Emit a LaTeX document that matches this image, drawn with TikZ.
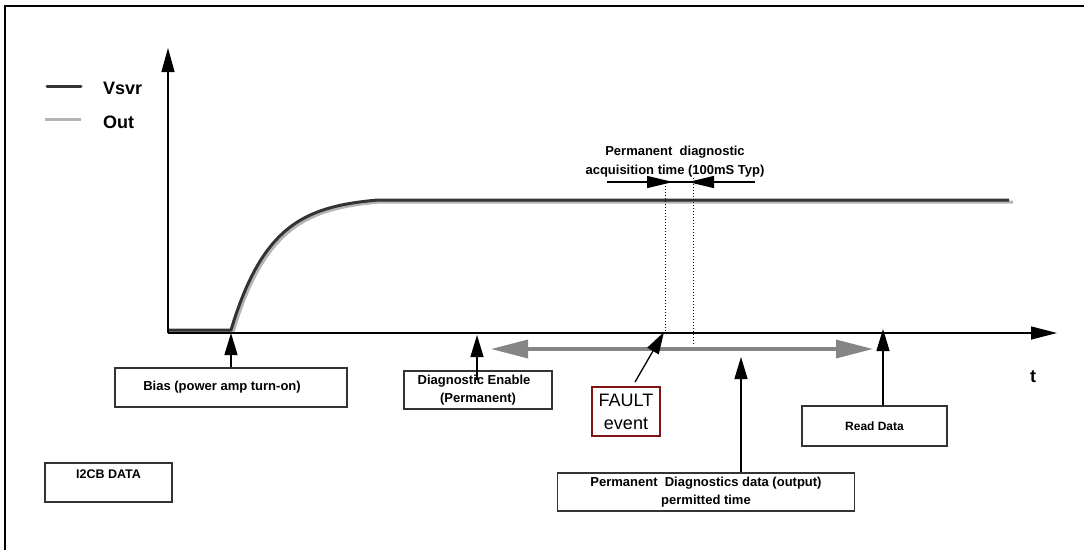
\documentclass[tikz,border=0pt]{standalone}
\usepackage{fontspec}
\setmainfont{Liberation Sans}
\usetikzlibrary{arrows.meta}

\definecolor{vsvrgray}{HTML}{333333}
\definecolor{outgray}{HTML}{B4B4B4}
\definecolor{spangray}{HTML}{858585}
\definecolor{faultred}{HTML}{7F1414}

\begin{document}
\begin{tikzpicture}[x=1pt,y=-1pt,
    box/.style={draw=black!80, line width=1.2pt, inner sep=0pt, align=center, font=\fontsize{13}{18}\selectfont\bfseries},
    uparrow/.style={-{Triangle[length=22pt,width=13pt]}, line width=1.3pt},
    vsvrline/.style={draw=vsvrgray, line width=3pt, line join=round},
    outline/.style={draw=outgray, line width=3pt, line join=round}]

            \useasboundingbox (0,0) rectangle (1084,550);
            \draw[line width=2pt] (5,550) -- (5,5.5) -- (1084,5.5);

            \coordinate (O) at (168,333);
            \coordinate (ytip) at (168,48);
            \coordinate (xtip) at (1057,333);

            % legend
            \draw[vsvrline, line cap=round] (47,86) -- (81,86);
            \draw[outline] (45,119) -- (81,119);
            \node[anchor=west, inner sep=0pt, font=\fontsize{18}{20}\selectfont\bfseries] (vsvrlbl) at (103,88) {Vsvr};
            \node[anchor=west, inner sep=0pt, font=\fontsize{18}{20}\selectfont\bfseries] (outlbl) at (103,122) {Out};

            % signals
            \draw[outline] (168,332) -- (233,332) -- plot[domain=0:147, samples=50] ({233+\x},{332-130*(1-exp(-\x/40))/(1-exp(-147/40))}) -- (1013,202);
            \draw[vsvrline] (168,330) -- (231,330) -- plot[domain=0:147, samples=50] ({231+\x},{330-130*(1-exp(-\x/40))/(1-exp(-147/40))}) -- (1009,200);

            % axes
            \draw[-{Triangle[length=24pt,width=13pt]}, line width=1.3pt] (O) -- (ytip);
            \draw[-{Triangle[length=26pt,width=13pt]}, line width=1.3pt] (O) -- (xtip);
            \node[font=\fontsize{18}{20}\selectfont\bfseries] (tlbl) at (1033,377) {t};

            % acquisition window
            \node[align=center, inner sep=0pt, font=\fontsize{13}{19}\selectfont\bfseries] (acq) at (675,162) {Permanent\ \ diagnostic\\acquisition time (100mS Typ)};
            \coordinate (acqL) at (607,182);
            \coordinate (acqLtip) at (673,182);
            \coordinate (acqR) at (755,182);
            \coordinate (acqRtip) at (688,182);
            \draw[line width=1.2pt] (acqL) -- (acqR);
            \draw[-{Triangle[length=26pt,width=12pt]}, line width=1.2pt] (acqL) -- (acqLtip);
            \draw[-{Triangle[length=26pt,width=12pt]}, line width=1.2pt] (acqR) -- (acqRtip);

            \coordinate (dotA) at (665,183);
            \coordinate (dotAb) at (665,333);
            \coordinate (dotB) at (693,178);
            \coordinate (dotBb) at (693,345);
            \draw[dotted, line width=1pt] (dotA) -- (dotAb);
            \draw[dotted, line width=1pt] (dotB) -- (dotBb);

            % permitted span
            \coordinate (spanL) at (491,349);
            \coordinate (spanR) at (873,349);
            \draw[{Triangle[length=37pt,width=18pt]}-{Triangle[length=37pt,width=18pt]}, draw=spangray, fill=spangray, line width=3.5pt] (spanL) -- (spanR);

            % boxes
            \node[box, minimum width=232pt, minimum height=39pt] (bias) at (231,387.5) {Bias (power amp turn-on)\hspace*{18pt}};
            \node[box, minimum width=148pt, minimum height=38pt] (enable) at (478,390) {Diagnostic Enable\hspace*{8pt}\\(Permanent)};
            \node[box, draw=faultred, font=\fontsize{18}{23}\selectfont, minimum width=68pt, minimum height=49pt] (fault) at (626,411.5) {FAULT\\event};
            \node[box, font=\fontsize{12}{14}\selectfont\bfseries, minimum width=145pt, minimum height=40pt] (read) at (874.5,426) {Read Data};
            \node[box, minimum width=297pt, minimum height=38pt] (perm) at (706,492) {Permanent\ \ Diagnostics data (output)\\permitted time};
            \node[box, font=\fontsize{12.5}{17}\selectfont\bfseries, minimum width=127pt, minimum height=39pt] (i2cb) at (108.5,482.5) {I2CB DATA\\\mbox{}};

            % markers
            \coordinate (biasT) at (231,333);
            \coordinate (enT) at (477,335);
            \coordinate (enB) at (477,380);
            \coordinate (faultB) at (635,382);
            \coordinate (faultT) at (664,332);
            \coordinate (permT) at (741,357);
            \coordinate (readT) at (883,329);
            \draw[uparrow] (bias.north -| biasT) -- (biasT);
            \draw[uparrow] (enB) -- (enT);
            \draw[uparrow] (faultB) -- (faultT);
            \draw[uparrow] (perm.north -| permT) -- (permT);
            \draw[uparrow] (read.north -| readT) -- (readT);

\end{tikzpicture}
\end{document}
